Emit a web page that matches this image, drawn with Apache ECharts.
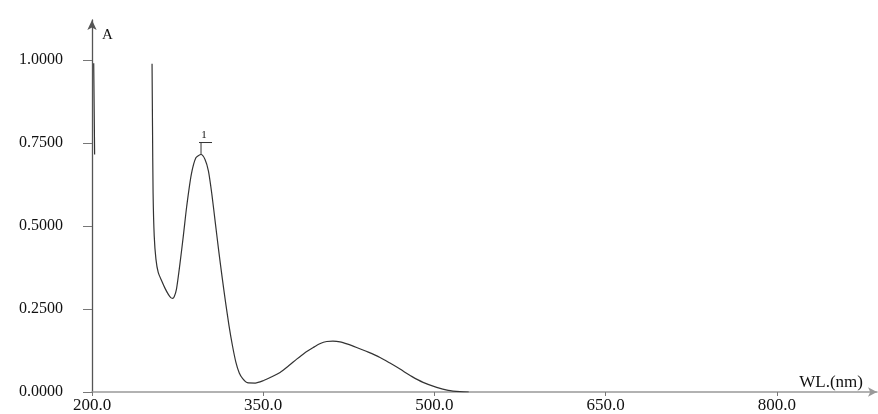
<!DOCTYPE html>
<html>
<head>
<meta charset="utf-8">
<script src="https://cdn.jsdelivr.net/npm/echarts@6/dist/echarts.min.js"></script>
<style>
html,body{margin:0;padding:0;background:#fff;}
#c{width:878px;height:414px;}
</style>
</head>
<body>
<div id="c"></div>
<script>
// Wavelength (nm) and absorbance (A)
const seg1Wl = [201.5, 202.3];
const seg1A  = [0.99, 0.715];
const seg2Wl = [252.6, 253.0, 253.5, 254.5, 256, 258, 261, 264, 267, 269, 270.5, 272, 274, 277, 280, 283, 287, 291, 295.5, 299, 302, 305, 308, 311, 314, 317, 320, 323, 326, 329, 332, 336, 343, 350, 357, 364.7, 372, 379.3, 386, 393.8, 400, 405.6, 411, 417.2, 424, 431.8, 442, 452.3, 461, 469.8, 480, 490, 501.9, 512, 522.3, 530];
const seg2A  = [0.988, 0.80, 0.60, 0.47, 0.40, 0.36, 0.335, 0.312, 0.293, 0.284, 0.282, 0.287, 0.31, 0.385, 0.47, 0.56, 0.655, 0.705, 0.715, 0.70, 0.665, 0.595, 0.51, 0.425, 0.345, 0.27, 0.20, 0.14, 0.09, 0.057, 0.04, 0.028, 0.027, 0.034, 0.045, 0.059, 0.078, 0.099, 0.117, 0.134, 0.146, 0.152, 0.153, 0.151, 0.144, 0.134, 0.12, 0.104, 0.087, 0.069, 0.047, 0.029, 0.014, 0.005, 0.001, 0.0];
const xTicks = [200, 350, 500, 650, 800];
const yTicks = [0, 0.25, 0.5, 0.75, 1.0];
const peakLabel = '1';
const peakWl = 295.5;
const peakA = 0.715;

const data = [];
seg1Wl.forEach((w, i) => data.push([w, seg1A[i]]));
data.push([227, null]);
seg2Wl.forEach((w, i) => data.push([w, seg2A[i]]));

const font = 'Liberation Serif';
const chart = echarts.init(document.getElementById('c'), null, {renderer: 'canvas'});
chart.setOption({
  animation: false,
  backgroundColor: '#fff',
  grid: {left: 92, right: 1, top: 20, bottom: 21},
  xAxis: {
    type: 'value', min: 200, max: 887.6,
    axisLine: {show: true, lineStyle: {color: '#999', width: 1.5}, symbol: ['none', 'arrow'], symbolSize: [7, 9]},
    axisTick: {show: true, inside: false, length: 4, lineStyle: {color: '#777'}, customValues: xTicks},
    axisLabel: {customValues: xTicks, formatter: v => v.toFixed(1), color: '#111', fontFamily: font, fontSize: 17, margin: 5},
    splitLine: {show: false}
  },
  yAxis: {
    type: 'value', min: 0, max: 1.12,
    axisLine: {show: true, lineStyle: {color: '#555', width: 1.3}, symbol: ['none', 'arrow'], symbolSize: [7, 10]},
    axisTick: {show: true, inside: false, length: 9, lineStyle: {color: '#777'}, customValues: yTicks},
    axisLabel: {customValues: yTicks, formatter: v => v.toFixed(4), color: '#111', fontFamily: font, fontSize: 16, margin: 29},
    splitLine: {show: false}
  },
  series: [{
    type: 'line', data: data, showSymbol: false, connectNulls: false, smooth: 0.25,
    lineStyle: {color: '#333', width: 1.2}, clip: true
  }]
});

const p = chart.convertToPixel({gridIndex: 0}, [peakWl, peakA]);
chart.setOption({
  graphic: [
    {type: 'line', shape: {x1: p[0], y1: p[1], x2: p[0], y2: p[1] - 12}, style: {stroke: '#333', lineWidth: 1}},
    {type: 'line', shape: {x1: p[0] - 2, y1: p[1] - 12, x2: p[0] + 11, y2: p[1] - 12}, style: {stroke: '#333', lineWidth: 1}},
    {type: 'text', x: p[0] + 3, y: p[1] - 14, style: {text: peakLabel, fill: '#111', font: '11px ' + font, textAlign: 'center', textVerticalAlign: 'bottom'}},
    {type: 'text', left: 102, top: 28, style: {text: 'A', fill: '#111', font: '15px ' + font}},
    {type: 'text', right: 15, top: 374, style: {text: 'WL.(nm)', fill: '#111', font: '17px ' + font}}
  ]
});
</script>
</body>
</html>
